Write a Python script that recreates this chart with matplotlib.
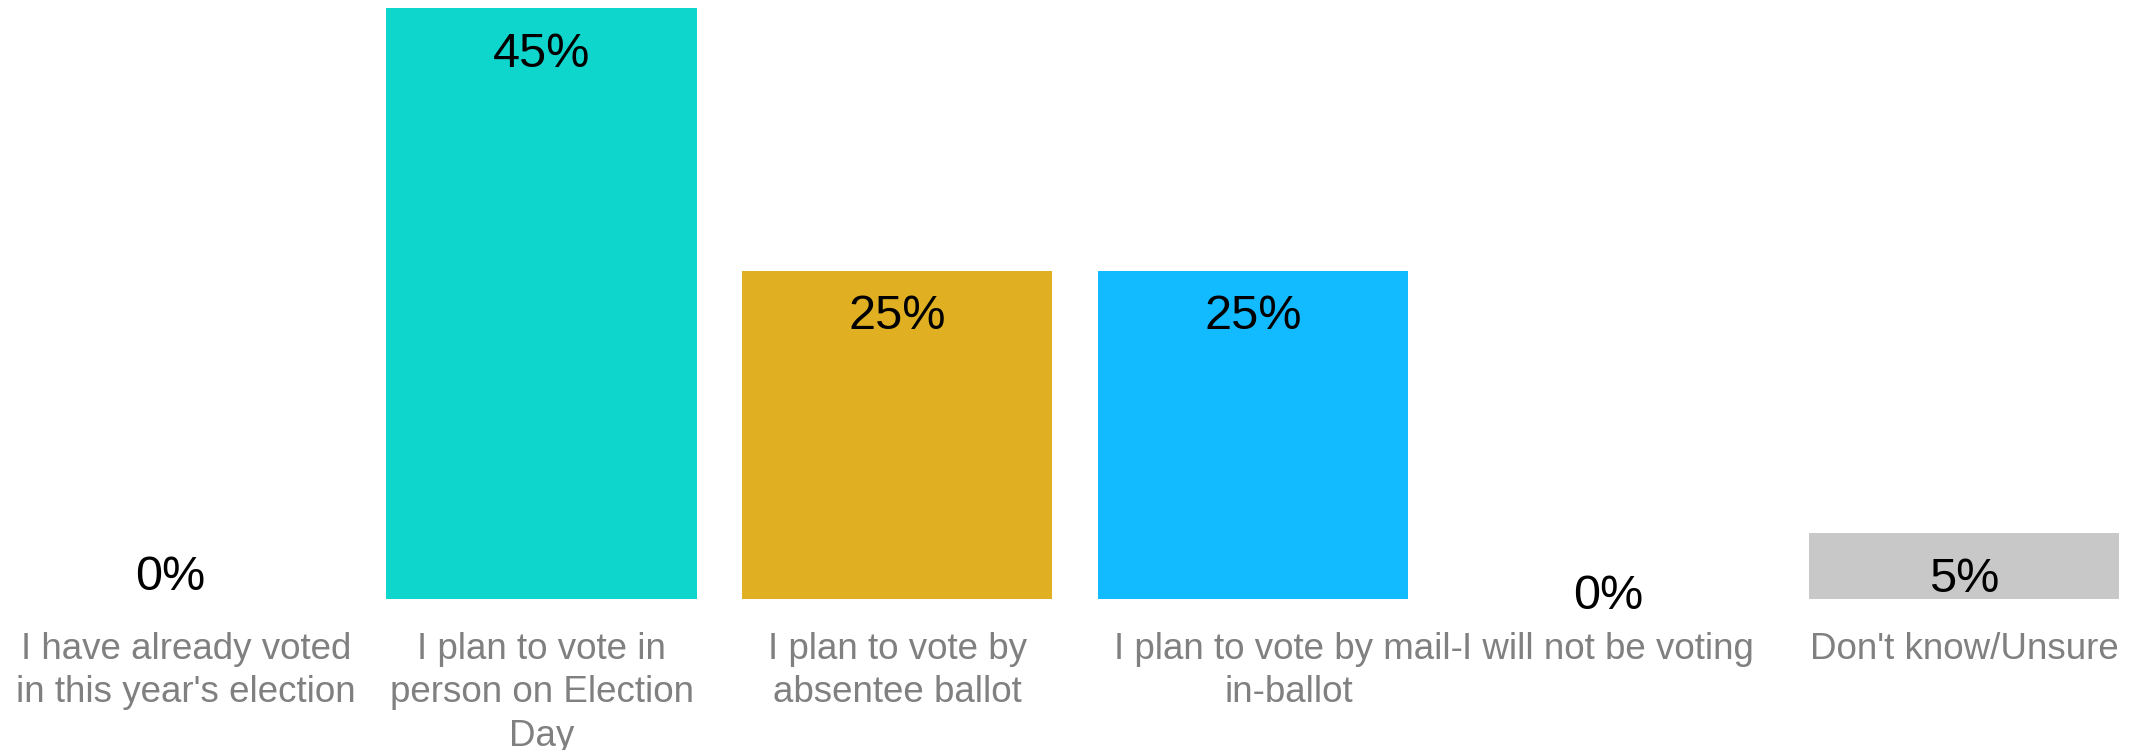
import matplotlib
matplotlib.use("Agg")
import matplotlib.pyplot as plt
import matplotlib.transforms as mtransforms

plt.rcParams['font.family'] = ['Liberation Sans', 'DejaVu Sans']

# Daten
categories = [
    "I have already voted\nin this year's election",
    "I plan to vote in\nperson on Election\nDay",
    "I plan to vote by\nabsentee ballot",
    "I plan to vote by mail-\nin-ballot",
    "I will not be voting",
    "Don't know/Unsure",
]
values = [0, 45, 25, 25, 0, 5]
value_labels = ["0%", "45%", "25%", "25%", "0%", "5%"]
colors = ["#0FD6CD", "#0FD6CD", "#E0B022", "#12BAFF", "#C8C8C8", "#C8C8C8"]

# offset label (px) relatif ke puncak batang; nol punya posisi aneh sendiri
label_dy = [22, -46, -46, -46, 3, -46]
label_dx = [-16, 0, 0, 0, 0, 0]

fig = plt.figure(figsize=(21.49, 7.5), dpi=100)
ax = fig.add_axes([0.00377, 0.2013, 0.9929, 0.788])

x = list(range(len(categories)))
ax.bar(x, values, width=0.872, color=colors)

for i, (v, lab) in enumerate(zip(values, value_labels)):
    ax.annotate(lab, xy=(i, v), xytext=(label_dx[i] * 0.72, label_dy[i] * 0.72),
                textcoords='offset points', ha='center', va='center',
                fontsize=35, color='black')

ax.set_xlim(-0.5, len(categories) - 0.5)
ax.set_ylim(0, 45)
ax.set_xticks(x)
ax.set_xticklabels(categories, fontsize=26.5, color='#808080', linespacing=1.3)
ax.tick_params(axis='x', length=0, pad=24)
ax.set_yticks([])
for s in ax.spines.values():
    s.set_visible(False)

# label mail-in agak bergeser ke kanan di aslinya
lbl = ax.get_xticklabels()[3]
lbl.set_transform(lbl.get_transform() + mtransforms.ScaledTranslation(0.36, 0, fig.dpi_scale_trans))

fig.savefig("out.png", dpi=100)
